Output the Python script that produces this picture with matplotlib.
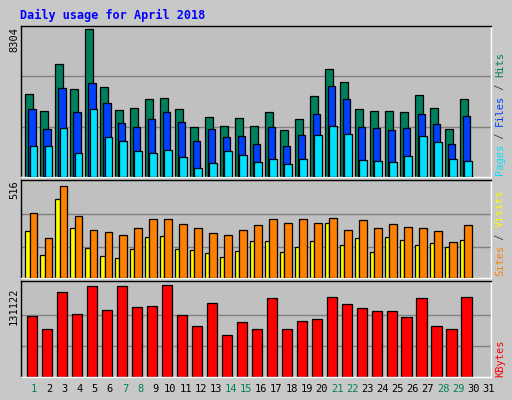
import matplotlib
matplotlib.use('Agg')
import matplotlib.pyplot as plt
import numpy as np

days = list(range(1, 32))
hits_px = [223,273,132,208,27,202,268,262,238,232,265,319,289,316,292,316,274,328,295,229,148,187,265,271,271,274,226,262,325,235]
files_px = [265,325,205,274,190,247,307,319,295,274,304,361,325,349,346,370,319,376,343,280,199,238,319,322,328,322,280,310,370,286]
pages_px = [376,376,322,397,265,349,361,391,397,388,409,442,427,391,403,424,415,430,415,343,316,340,418,421,424,406,346,364,415,421]
hits = [round((470-y)/443*8304) for y in hits_px]
files = [round((470-y)/443*8304) for y in files_px]
pages = [round((470-y)/443*8304) for y in pages_px]
visits_px = [108,183,27,117,159,165,174,153,126,126,141,153,168,174,159,144,126,138,126,138,123,159,129,153,141,150,153,162,195,144]
sites_px = [162,234,66,153,213,237,243,216,180,177,216,219,228,240,222,192,192,225,210,192,138,204,183,225,180,189,204,198,210,189]
visits = [round((304-y)/277*516) for y in visits_px]
sites = [round((304-y)/277*516) for y in sites_px]
kb_px = [420,459,348,414,330,402,330,393,390,327,417,450,381,477,438,459,366,459,435,429,363,384,396,405,405,423,366,450,459,363]
kbytes = [round((603-y)/276*131122) for y in kb_px]
weekends = [1,7,8,14,15,21,22,28,29]

W, H = 512, 400
fig = plt.figure(figsize=(5.12, 4.0), dpi=100, facecolor='#c8c8c8')
mono = 'DejaVu Sans Mono'

def mkax(top, bot):
    ax = fig.add_axes([21/W, (H-bot)/H, 470/W, (bot-top)/H])
    ax.set_facecolor('#c0c0c0')
    ax.set_xlim(-0.3, 31.05)
    ax.set_xticks([]); ax.set_yticks([])
    for s in ax.spines.values():
        s.set_color('black'); s.set_linewidth(1)
    ax.spines['bottom'].set_color('white'); ax.spines['right'].set_color('white')
    return ax

n = len(hits)
x = np.arange(n)
lw = 0.9
ax1 = mkax(26, 177)
top1 = 8304 * 150 / 147
ax1.set_ylim(0, top1)
for g in (top1/3, top1*2/3):
    ax1.axhline(g, color='#808080', lw=1, zorder=0)
ax1.bar(x, hits, width=0.5, align='edge', color='#00805c', edgecolor='black', lw=lw, zorder=2)
ax1.bar(x+0.17, files, width=0.5, align='edge', color='#0040ff', edgecolor='black', lw=lw, zorder=3)
ax1.bar(x+0.27, pages, width=0.5, align='edge', color='#00e0ff', edgecolor='black', lw=lw, zorder=4)

ax2 = mkax(180, 278)
top2 = 516 * 98 / 92
ax2.set_ylim(0, top2)
for g in (top2*0.32, top2*0.65):
    ax2.axhline(g, color='#808080', lw=1, zorder=0)
ax2.bar(x, sites, width=0.27, align='edge', color='#ffff00', edgecolor='black', lw=lw, zorder=2)
ax2.bar(x+0.27, visits, width=0.5, align='edge', color='#ff8000', edgecolor='black', lw=lw, zorder=3)

ax3 = mkax(281, 377)
top3 = 131122 * 96 / 92
ax3.set_ylim(0, top3)
for g in (top3*0.32, top3*0.65):
    ax3.axhline(g, color='#808080', lw=1, zorder=0)
ax3.bar(x+0.08, kbytes, width=0.67, align='edge', color='#ff0000', edgecolor='black', lw=lw, zorder=2)

fig.text(20/W, 1-15/H, 'Daily usage for April 2018', color='#0000ff', family=mono,
         fontweight='bold', fontsize=8.5, va='center', ha='left')
for txt, y in (('8304', 40), ('516', 190), ('131122', 306)):
    fig.text(14/W, 1-y/H, txt, rotation=90, family=mono, fontsize=7.5, ha='center', va='center')
for d in days:
    fig.text((25 + (d-1)*15.15 + 9)/W, 1-389/H, str(d), family=mono, fontsize=7.5,
             color='#00805c' if d in weekends else 'black', ha='center', va='center')

def vlabel(parts, xc, ybot):
    y = ybot
    for t, c in parts:
        tx = fig.text(xc/W, 1-y/H, t, rotation=90, family=mono, fontsize=7.5,
                      color=c, ha='center', va='bottom')
        y -= len(t) * 6.1
vlabel([('Pages', '#00e0ff'), (' / ', '#404040'), ('Files', '#0040ff'), (' / ', '#404040'), ('Hits', '#00805c')], 500, 175)
vlabel([('Sites', '#ff8000'), (' / ', '#404040'), ('Visits', '#ffff00')], 500, 276)
vlabel([('KBytes', '#ff0000')], 500, 377)

fig.savefig('out.png', dpi=100, facecolor=fig.get_facecolor())
